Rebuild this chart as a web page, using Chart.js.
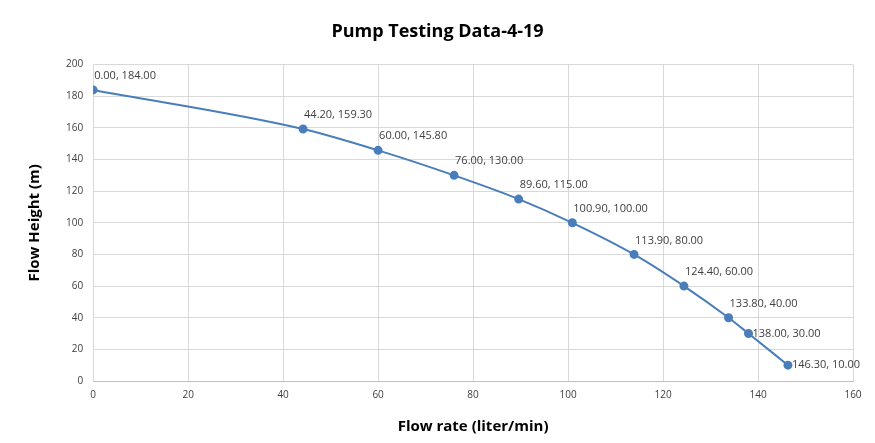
<!DOCTYPE html>
<html>
<head>
<script src="https://cdn.jsdelivr.net/npm/chart.js"></script>
<title>Pump Testing Data</title>
<style>
  body { margin: 0; background: #fff; }
  #wrap { width: 875px; height: 443px; position: relative; }
</style>
</head>
<body>
<div id="wrap">
  <canvas id="pumpChart"></canvas>
</div>
<script>
// flow rate (liter/min) and flow height (m)
const flowRate = [0.00, 44.20, 60.00, 76.00, 89.60, 100.90, 113.90, 124.40, 133.80, 138.00, 146.30];
const flowHeight = [184.00, 159.30, 145.80, 130.00, 115.00, 100.00, 80.00, 60.00, 40.00, 30.00, 10.00];
const xTicks = [0, 20, 40, 60, 80, 100, 120, 140, 160];
const yTicks = [0, 20, 40, 60, 80, 100, 120, 140, 160, 180, 200];

const points = flowRate.map((x, i) => ({ x: x, y: flowHeight[i] }));

// draws the "x, y" labels next to each point
const pointLabels = {
  id: 'pointLabels',
  afterDatasetsDraw(chart) {
    const ctx = chart.ctx;
    const meta = chart.getDatasetMeta(0);
    ctx.save();
    ctx.font = '11px "Open Sans", sans-serif';
    ctx.fillStyle = '#404040';
    ctx.textBaseline = 'middle';
    ctx.textAlign = 'left';
    meta.data.forEach((pt, i) => {
      const txt = flowRate[i].toFixed(2) + ', ' + flowHeight[i].toFixed(2);
      let dx = 1, dy = -14;
      if (i >= flowRate.length - 2) { dx = 4; dy = 0; }
      ctx.fillText(txt, pt.x + dx, pt.y + dy);
    });
    ctx.restore();
  }
};

new Chart(document.getElementById('pumpChart'), {
  type: 'scatter',
  data: {
    datasets: [{
      label: 'Flow Height',
      data: points,
      showLine: true,
      borderColor: '#4a7ebb',
      backgroundColor: '#4a7ebb',
      borderWidth: 2,
      pointRadius: 3.5,
      cubicInterpolationMode: 'monotone'
    }]
  },
  options: {
    responsive: true,
    maintainAspectRatio: false,
    animation: false,
    layout: { padding: { left: 22, right: 22, top: 11, bottom: 3 } },
    plugins: {
      legend: { display: false },
      tooltip: { enabled: false },
      title: {
        display: true,
        text: 'Pump Testing Data-4-19',
        color: '#000',
        font: { family: '"Open Sans", sans-serif', size: 18, weight: 'bold' },
        padding: { top: 10, bottom: 22 }
      }
    },
    scales: {
      x: {
        type: 'linear',
        min: 0,
        max: 160,
        afterBuildTicks: axis => { axis.ticks = xTicks.map(v => ({ value: v })); },
        grid: { color: '#d9d9d9', drawTicks: false },
        border: { color: '#bfbfbf' },
        ticks: { color: '#404040', padding: 8, font: { family: '"Open Sans", sans-serif', size: 10 } },
        title: {
          display: true,
          text: 'Flow rate (liter/min)',
          color: '#000',
          font: { family: '"Open Sans", sans-serif', size: 15, weight: 'bold' },
          padding: { top: 9 }
        }
      },
      y: {
        min: 0,
        max: 200,
        afterBuildTicks: axis => { axis.ticks = yTicks.map(v => ({ value: v })); },
        grid: { color: '#d9d9d9', drawTicks: false },
        border: { display: false },
        ticks: { color: '#404040', padding: 10, font: { family: '"Open Sans", sans-serif', size: 10 } },
        title: {
          display: true,
          text: 'Flow Height (m)',
          color: '#000',
          font: { family: '"Open Sans", sans-serif', size: 15, weight: 'bold' },
          padding: { bottom: 12 }
        }
      }
    }
  },
  plugins: [pointLabels]
});
</script>
</body>
</html>
